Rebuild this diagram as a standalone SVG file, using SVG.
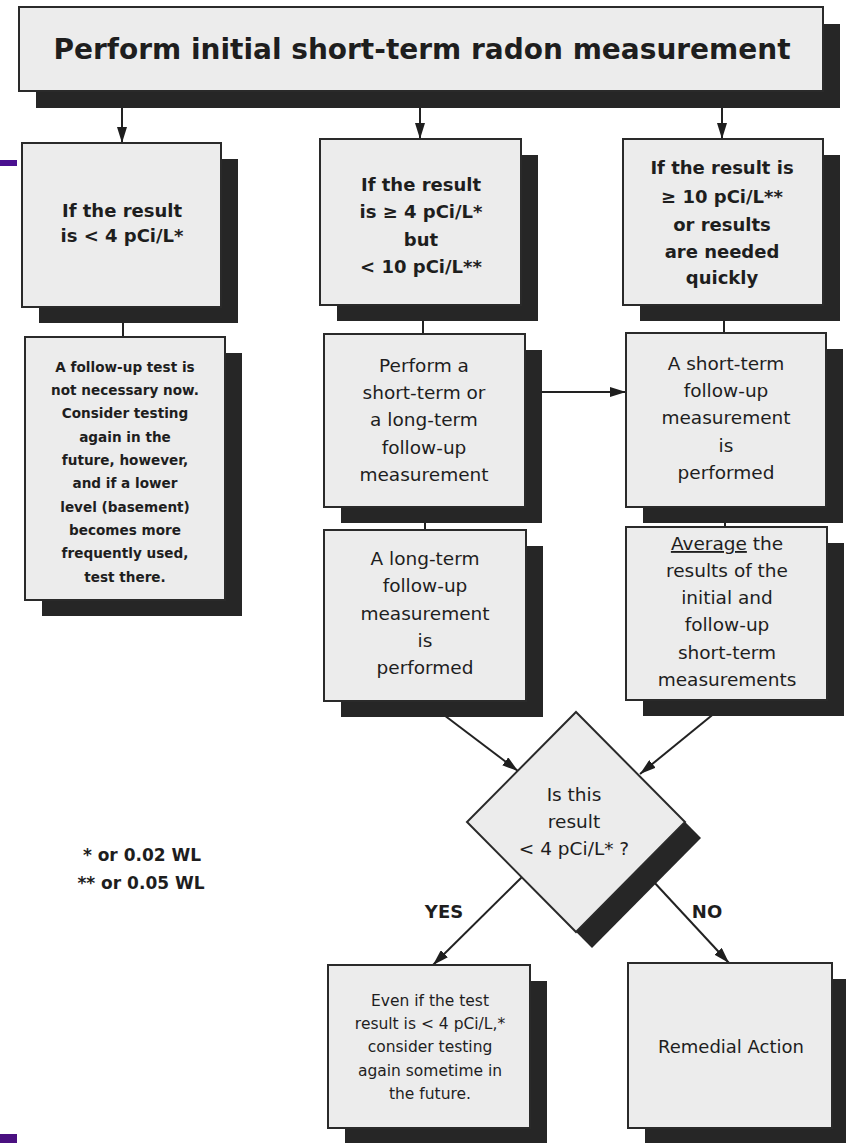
<svg xmlns="http://www.w3.org/2000/svg" width="846" height="1143" viewBox="0 0 846 1143">
<style>
.box{fill:#ececec;stroke:#2a2a2a;stroke-width:2}
.sh{fill:#262626}
.t{font-family:"DejaVu Sans","Liberation Sans",sans-serif;fill:#1e1e1e;text-anchor:middle}
.b{font-weight:bold}
.c{stroke:#222;stroke-width:2;fill:none}
.a{marker-end:url(#ah)}
</style>
<defs>
<marker id="ah" viewBox="0 0 16 10" refX="16" refY="5" markerWidth="16" markerHeight="10" markerUnits="userSpaceOnUse" orient="auto">
<path d="M0,0 L16,5 L0,10 z" fill="#1e1e1e"/>
</marker>
</defs>
<rect x="0" y="0" width="846" height="1143" fill="#ffffff"/>
<rect x="0" y="160" width="17" height="6" fill="#4a1090"/>
<rect x="0" y="1134" width="17" height="9" fill="#4a1080"/>

<g id="connectors">
<line class="c a" x1="122" y1="100" x2="122" y2="143"/>
<line class="c a" x1="420" y1="100" x2="420" y2="139"/>
<line class="c a" x1="722" y1="100" x2="722" y2="139"/>
<line class="c" x1="123" y1="310" x2="123" y2="337"/>
<line class="c" x1="423" y1="310" x2="423" y2="334"/>
<line class="c" x1="724" y1="310" x2="724" y2="333"/>
<line class="c" x1="425" y1="510" x2="425" y2="530"/>
<line class="c" x1="725" y1="510" x2="725" y2="527"/>
<line class="c a" x1="542" y1="392" x2="626" y2="392"/>
<line class="c a" x1="440" y1="712" x2="518" y2="771"/>
<line class="c a" x1="716" y1="712" x2="640" y2="774"/>
<line class="c a" x1="522" y1="877" x2="433" y2="965"/>
<line class="c a" x1="640" y1="867" x2="729" y2="963"/>
</g>

<g id="n_start">
<rect class="sh" x="36" y="24" width="804" height="84"/>
<rect class="box" x="19" y="7" width="804" height="84"/>
<text class="t b" x="422" y="59" font-size="28">Perform initial short-term radon measurement</text>
</g>

<g id="n_low">
<rect class="sh" x="39" y="159" width="199" height="164"/>
<rect class="box" x="22" y="143" width="199" height="164"/>
<text class="t b" font-size="18" x="122"><tspan x="122" y="217">If the result</tspan><tspan x="122" y="242">is &lt; 4 pCi/L*</tspan></text>
</g>

<g id="n_mid">
<rect class="sh" x="337" y="155" width="201" height="166"/>
<rect class="box" x="320" y="139" width="201" height="166"/>
<text class="t b" font-size="18" x="421"><tspan x="421" y="191">If the result</tspan><tspan x="421" y="218">is ≥ 4 pCi/L*</tspan><tspan x="421" y="246">but</tspan><tspan x="421" y="273">&lt; 10 pCi/L**</tspan></text>
</g>

<g id="n_high">
<rect class="sh" x="640" y="155" width="200" height="166"/>
<rect class="box" x="623" y="139" width="200" height="166"/>
<text class="t b" font-size="18" x="722"><tspan x="722" y="174">If the result is</tspan><tspan x="722" y="203">≥ 10 pCi/L**</tspan><tspan x="722" y="231">or results</tspan><tspan x="722" y="258">are needed</tspan><tspan x="722" y="284">quickly</tspan></text>
</g>

<g id="n_nofollow">
<rect class="sh" x="42" y="353" width="200" height="263"/>
<rect class="box" x="25" y="337" width="200" height="263"/>
<text class="t b" font-size="13.6" x="125"><tspan x="125" y="372">A follow-up test is</tspan><tspan x="125" y="395">not necessary now.</tspan><tspan x="125" y="418">Consider testing</tspan><tspan x="125" y="442">again in the</tspan><tspan x="125" y="465">future, however,</tspan><tspan x="125" y="488">and if a lower</tspan><tspan x="125" y="512">level (basement)</tspan><tspan x="125" y="535">becomes more</tspan><tspan x="125" y="558">frequently used,</tspan><tspan x="125" y="582">test there.</tspan></text>
</g>

<g id="n_perform">
<rect class="sh" x="341" y="350" width="201" height="173"/>
<rect class="box" x="324" y="334" width="201" height="173"/>
<text class="t" font-size="18.5" x="424"><tspan x="424" y="372">Perform a</tspan><tspan x="424" y="399">short-term or</tspan><tspan x="424" y="426">a long-term</tspan><tspan x="424" y="454">follow-up</tspan><tspan x="424" y="481">measurement</tspan></text>
</g>

<g id="n_short">
<rect class="sh" x="643" y="349" width="200" height="174"/>
<rect class="box" x="626" y="333" width="200" height="174"/>
<text class="t" font-size="18.5" x="726"><tspan x="726" y="370">A short-term</tspan><tspan x="726" y="397">follow-up</tspan><tspan x="726" y="424">measurement</tspan><tspan x="726" y="452">is</tspan><tspan x="726" y="479">performed</tspan></text>
</g>

<g id="n_long">
<rect class="sh" x="341" y="546" width="202" height="171"/>
<rect class="box" x="324" y="530" width="202" height="171"/>
<text class="t" font-size="18.5" x="425"><tspan x="425" y="565">A long-term</tspan><tspan x="425" y="592">follow-up</tspan><tspan x="425" y="620">measurement</tspan><tspan x="425" y="647">is</tspan><tspan x="425" y="674">performed</tspan></text>
</g>

<g id="n_average">
<rect class="sh" x="643" y="543" width="201" height="173"/>
<rect class="box" x="626" y="527" width="201" height="173"/>
<text class="t" font-size="18.5" x="727"><tspan x="727" y="550"><tspan style="text-decoration:underline">Average</tspan> the</tspan><tspan x="727" y="577">results of the</tspan><tspan x="727" y="604">initial and</tspan><tspan x="727" y="631">follow-up</tspan><tspan x="727" y="659">short-term</tspan><tspan x="727" y="686">measurements</tspan></text>
</g>

<g id="n_decision">
<polygon class="sh" points="592,728 701,838 592,948 483,838"/>
<polygon class="box" points="576,712 685,822 576,932 467,822"/>
<text class="t" font-size="18.5" x="574"><tspan x="574" y="801">Is this</tspan><tspan x="574" y="828">result</tspan><tspan x="574" y="855">&lt; 4 pCi/L* ?</tspan></text>
</g>

<text class="t b" font-size="18" x="444" y="918">YES</text>
<text class="t b" font-size="18" x="707" y="918">NO</text>

<g id="n_retest">
<rect class="sh" x="345" y="981" width="202" height="170"/>
<rect class="box" x="328" y="965" width="202" height="163"/>
<text class="t" font-size="15.5" x="430"><tspan x="430" y="1006">Even if the test</tspan><tspan x="430" y="1029">result is &lt; 4 pCi/L,*</tspan><tspan x="430" y="1052">consider testing</tspan><tspan x="430" y="1076">again sometime in</tspan><tspan x="430" y="1099">the future.</tspan></text>
</g>

<g id="n_remedial">
<rect class="sh" x="645" y="979" width="204" height="170"/>
<rect class="box" x="628" y="963" width="204" height="165"/>
<text class="t" font-size="18" x="731" y="1053">Remedial Action</text>
</g>

<g id="footnotes">
<text class="t b" font-size="17" x="142" y="861">* or 0.02 WL</text>
<text class="t b" font-size="17" x="141" y="889">** or 0.05 WL</text>
</g>
</svg>
